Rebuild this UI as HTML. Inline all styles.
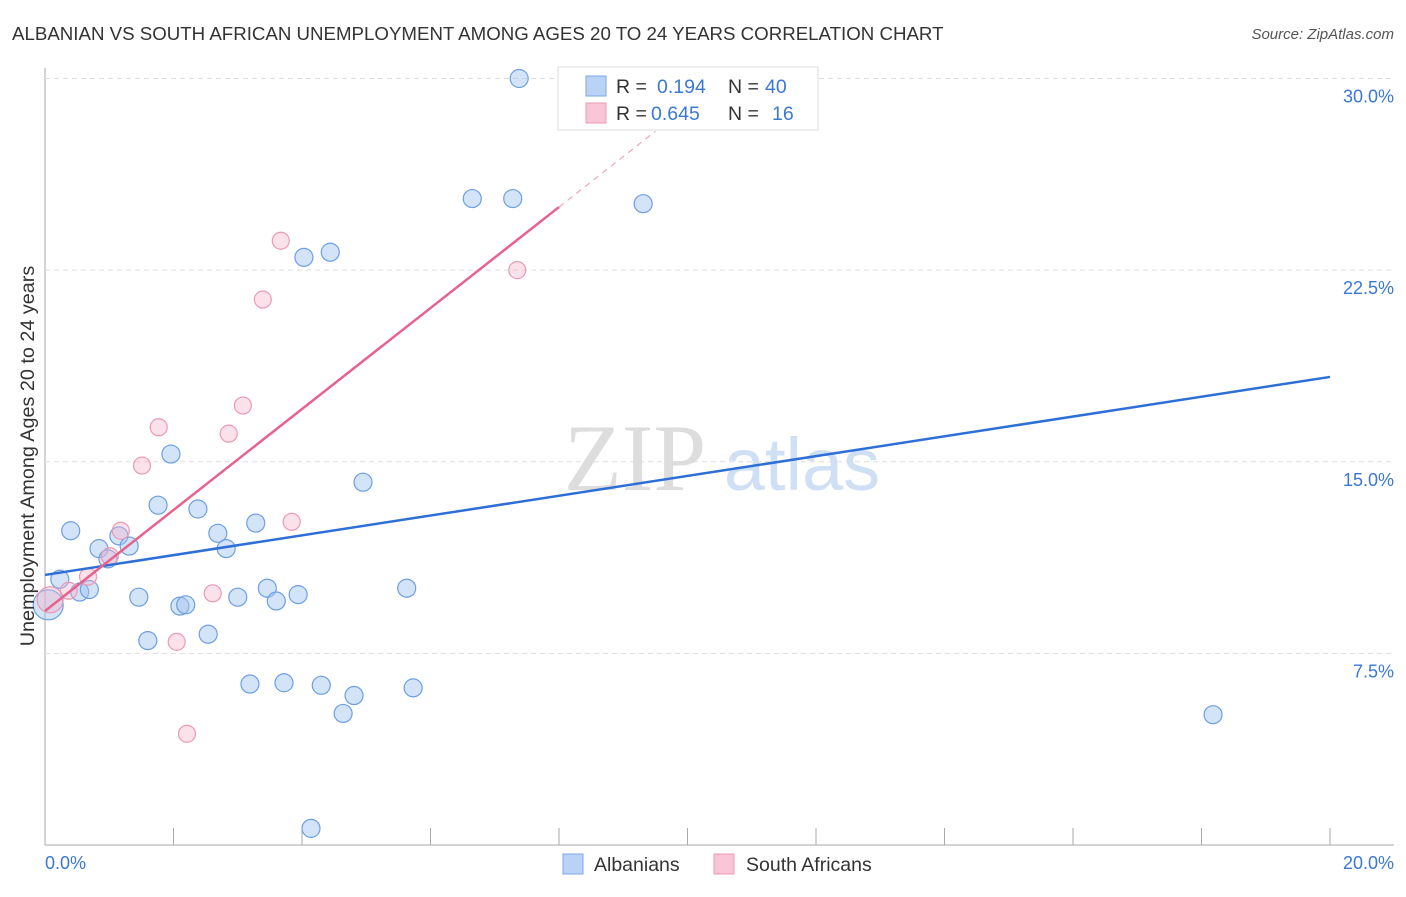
<!DOCTYPE html>
<html><head><meta charset="utf-8"><style>
body{margin:0;background:#fff;font-family:"Liberation Sans",sans-serif}
</style></head><body>
<svg width="1406" height="892" xmlns="http://www.w3.org/2000/svg" font-family="Liberation Sans, sans-serif">
<text x="12" y="40" font-size="18.7" fill="#333">ALBANIAN VS SOUTH AFRICAN UNEMPLOYMENT AMONG AGES 20 TO 24 YEARS CORRELATION CHART</text>
<text x="1394" y="39" font-size="15" fill="#555" font-style="italic" text-anchor="end">Source: ZipAtlas.com</text>
<g id="grid"></g>
<text x="635" y="490" font-size="95" fill="#ddd" font-family="Liberation Serif, serif" text-anchor="middle">ZIP</text>
<text x="802" y="490" font-size="74" fill="#cfe0f5" text-anchor="middle">atlas</text>
<g id="pts"></g>
<g id="lines"></g>
<text transform="translate(34,456) rotate(-90)" font-size="19.8" fill="#333" text-anchor="middle">Unemployment Among Ages 20 to 24 years</text>
<text x="45" y="869" font-size="18" fill="#3a78d4">0.0%</text>
<text x="1394" y="869" font-size="18" fill="#3a78d4" text-anchor="end">20.0%</text>
<g font-size="19.5">
<rect x="558" y="67" width="260" height="63" fill="#fff" stroke="#ddd"/>
<rect x="586" y="76" width="20" height="20" fill="#b9d3f5" stroke="#7aa7e6"/>
<rect x="586" y="103" width="20" height="20" fill="#f8c6d6" stroke="#eb9ab4"/>
<text x="616" y="93" fill="#333">R =</text>
<text x="657" y="93" fill="#3a78d4">0.194</text>
<text x="728" y="93" fill="#333">N =</text>
<text x="765" y="93" fill="#3a78d4">40</text>
<text x="616" y="120" fill="#333">R =</text>
<text x="651" y="120" fill="#3a78d4">0.645</text>
<text x="728" y="120" fill="#333">N =</text>
<text x="772" y="120" fill="#3a78d4">16</text>
</g>
<g>
<rect x="563" y="854" width="20" height="20" fill="#b9d3f5" stroke="#7aa7e6"/>
<text x="594" y="871" font-size="19.5" fill="#333">Albanians</text>
<rect x="714" y="854" width="20" height="20" fill="#f8c6d6" stroke="#eb9ab4"/>
<text x="746" y="871" font-size="19.5" fill="#333">South Africans</text>
</g>
</svg>
<script>
const yTicks=[7.5,15,22.5,30];
const yTickLabels=["7.5%","15.0%","22.5%","30.0%"];
const xTicks=[0,2,4,6,8,10,12,14,16,18,20];
const albX=[7.38,6.65,7.28,9.31,4.03,4.44,1.96,4.95,1.76,2.38,3.28,0.40,2.69,1.15,0.84,1.31,2.82,0.98,0.23,0.54,0.69,0.05,1.46,2.10,2.19,3.0,3.46,3.60,3.94,5.63,1.60,2.54,3.19,3.72,4.30,4.81,4.64,5.73,18.18,4.14];
const albY=[30.0,25.3,25.3,25.1,23.0,23.2,15.3,14.2,13.3,13.15,12.6,12.3,12.2,12.1,11.6,11.7,11.6,11.2,10.4,9.9,10.0,9.4,9.7,9.35,9.4,9.7,10.05,9.55,9.8,10.05,8.0,8.25,6.3,6.35,6.25,5.85,5.15,6.15,5.1,0.65];
const saX=[3.67,3.39,7.35,3.08,2.86,1.77,1.51,3.84,1.18,1.01,0.67,2.61,0.37,0.08,2.05,2.21];
const saY=[23.65,21.35,22.5,17.2,16.1,16.35,14.85,12.65,12.3,11.3,10.5,9.85,9.95,9.6,7.95,4.35];
const albTrend=[10.57,0.3875];
const saTrend=[9.16,1.976];
const X=v=>45+v*64.25, Y=v=>845-v*25.55;
const NS="http://www.w3.org/2000/svg";
function mk(t,a,p){const e=document.createElementNS(NS,t);for(const k in a)e.setAttribute(k,a[k]);p.appendChild(e);return e;}
const grid=document.getElementById('grid');
mk('line',{x1:45,y1:68,x2:45,y2:845,stroke:'#aaa'},grid);
mk('line',{x1:45,y1:845,x2:1394,y2:845,stroke:'#aaa'},grid);
yTicks.forEach((t,i)=>{
 const l=mk('line',{x1:45,y1:Y(t),x2:1394,y2:Y(t),stroke:'#ddd','stroke-dasharray':'5,4'},grid);
 
 
 const tx=mk('text',{x:1394,y:Y(t)+24,'font-size':18,fill:'#3a78d4','text-anchor':'end'},grid);
 tx.textContent=yTickLabels[i];
 
 
});
xTicks.forEach(t=>{
 const l=mk('line',{x1:X(t),y1:828,x2:X(t),y2:845,stroke:'#aaa'},grid);
 
 
});
const pts=document.getElementById('pts');
albX.forEach((x,i)=>{
 const c=mk('circle',{cx:X(x),cy:Y(albY[i]),r:i==21?15:9,fill:'rgba(160,196,240,0.45)',stroke:'#6c9fe3','stroke-width':1.2},pts);
 
 
});
saX.forEach((x,i)=>{
 const c=mk('circle',{cx:X(x),cy:Y(saY[i]),r:i==13?13:8.5,fill:'rgba(246,180,202,0.4)',stroke:'#eb9ab4','stroke-width':1.2},pts);
 
 
});
const lines=document.getElementById('lines');
let b=mk('line',{x1:X(0),y1:Y(albTrend[0]),x2:X(20),y2:Y(albTrend[0]+20*albTrend[1]),stroke:'#2d6fd6','stroke-width':2.5},lines);


let p=mk('line',{x1:X(0),y1:Y(saTrend[0]),x2:X(8),y2:Y(saTrend[0]+8*saTrend[1]),stroke:'#e8628e','stroke-width':2.5},lines);


let d=mk('line',{x1:X(8),y1:Y(saTrend[0]+8*saTrend[1]),x2:X(9.5),y2:Y(saTrend[0]+9.5*saTrend[1]),stroke:'#f0a5bd','stroke-width':1.2,'stroke-dasharray':'6,5'},lines);


</script>
</body></html>
